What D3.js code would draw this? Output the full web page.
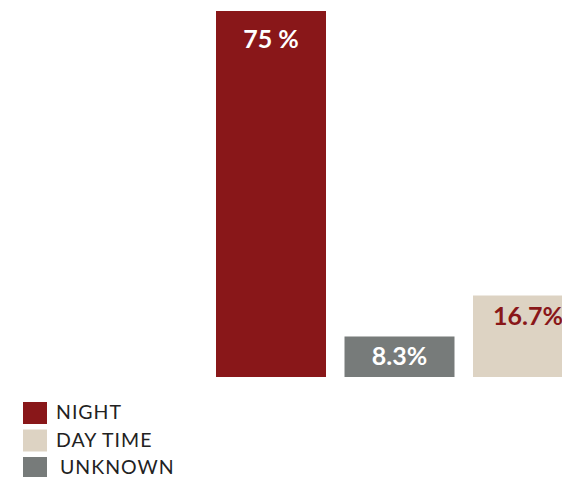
<!DOCTYPE html>
<html>
<head>
<meta charset="utf-8">
<script src="https://cdn.jsdelivr.net/npm/d3@7"></script>
<style>
  html, body { margin: 0; padding: 0; background: #fff; }
  svg { display: block; }
</style>
</head>
<body>
<div id="chart"></div>
<script>
const categories = ["NIGHT", "UNKNOWN", "DAY TIME"];
const values = [75, 8.3, 16.7];
const valueLabels = ["75 %", "8.3%", "16.7%"];
const legendOrder = ["NIGHT", "DAY TIME", "UNKNOWN"];

const colorMap = {
  "NIGHT": "#891719",
  "UNKNOWN": "#777b7a",
  "DAY TIME": "#ddd3c3"
};
const labelColorMap = {
  "NIGHT": "#ffffff",
  "UNKNOWN": "#ffffff",
  "DAY TIME": "#891719"
};

const width = 562, height = 477;

const svg = d3.select("#chart")
  .append("svg")
  .attr("width", width)
  .attr("height", height);

const x = d3.scaleBand()
  .domain(categories)
  .range([206.75, 592.25])
  .paddingInner(0.144)
  .paddingOuter(0.072);

const y = d3.scaleLinear()
  .domain([0, 75])
  .range([377, 11]);

const data = categories.map((c, i) => ({ name: c, value: values[i], label: valueLabels[i] }));

svg.selectAll("rect.bar")
  .data(data)
  .join("rect")
  .attr("class", "bar")
  .attr("x", d => x(d.name))
  .attr("y", d => y(d.value))
  .attr("width", x.bandwidth())
  .attr("height", d => y(0) - y(d.value))
  .attr("fill", d => colorMap[d.name]);

svg.selectAll("text.val")
  .data(data)
  .join("text")
  .attr("class", "val")
  .attr("x", d => x(d.name) + x.bandwidth() / 2)
  .attr("y", d => y(d.value) + (d.value > 50 ? 37 : 29))
  .attr("text-anchor", "middle")
  .attr("font-family", "Lato, 'DejaVu Sans', sans-serif")
  .attr("font-weight", "bold")
  .attr("font-size", 25)
  .attr("fill", d => labelColorMap[d.name])
  .text(d => d.label);

// legend
const legend = svg.append("g").attr("transform", "translate(23,402)");
const item = legend.selectAll("g")
  .data(legendOrder)
  .join("g")
  .attr("transform", (d, i) => `translate(0,${i * 27.5})`);

item.append("rect")
  .attr("width", 24)
  .attr("height", 22)
  .attr("fill", d => colorMap[d]);

item.append("text")
  .attr("x", d => d === "UNKNOWN" ? 37 : 33)
  .attr("y", 17)
  .attr("font-family", "Lato, sans-serif")
  .attr("font-size", 19.5)
  .attr("letter-spacing", 1)
  .attr("fill", "#222")
  .text(d => d);
</script>
</body>
</html>
